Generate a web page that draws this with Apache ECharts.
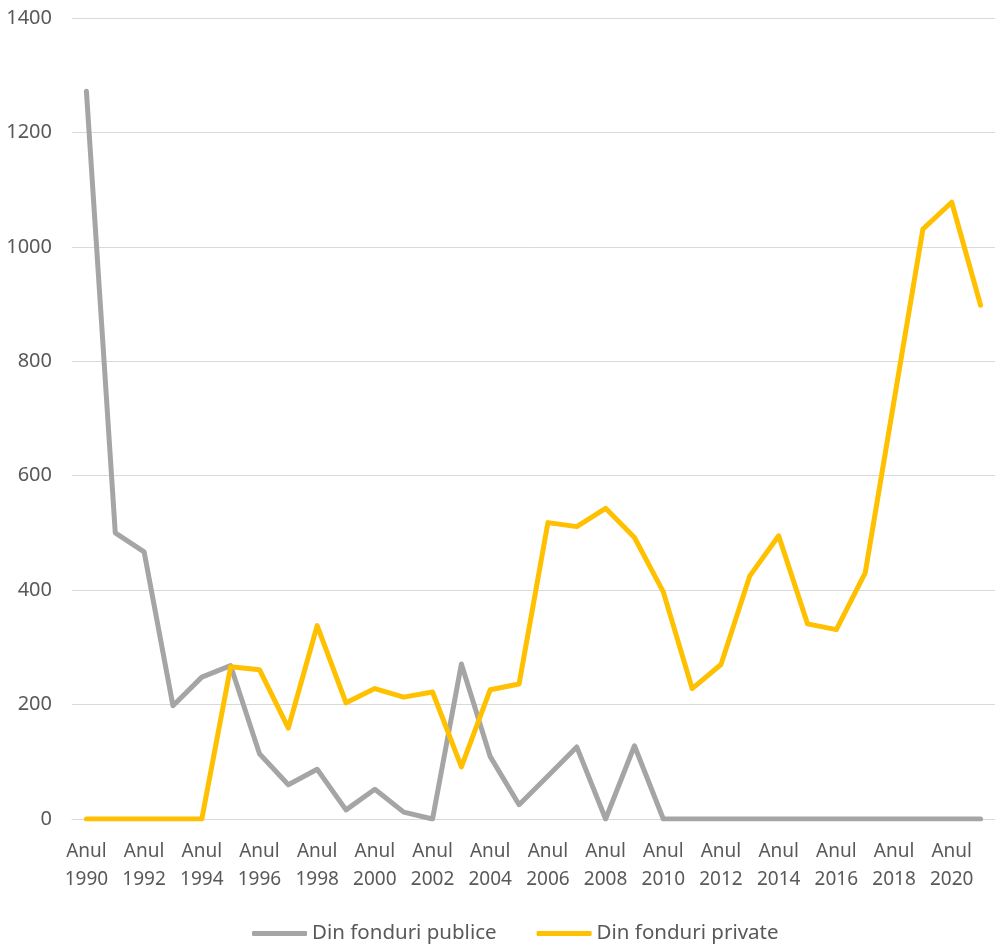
<!DOCTYPE html>
<html>
<head>
<meta charset="utf-8">
<script src="https://cdn.jsdelivr.net/npm/echarts@6/dist/echarts.min.js"></script>
<style>
  html, body { margin: 0; padding: 0; background: #fff; }
  #chart { width: 995px; height: 948px; }
</style>
</head>
<body>
<div id="chart"></div>
<script>
// categories: Anul 1990 .. Anul 2021
var years = [1990, 1991, 1992, 1993, 1994, 1995, 1996, 1997, 1998, 1999, 2000,
  2001, 2002, 2003, 2004, 2005, 2006, 2007, 2008, 2009, 2010,
  2011, 2012, 2013, 2014, 2015, 2016, 2017, 2018, 2019, 2020, 2021];
var categories = years.map(function (y) { return 'Anul ' + y; });

var publice = [1272, 500, 467, 198, 248, 268, 114, 60, 87, 16, 52,
  12, 0, 271, 109, 25, 75, 126, 0, 128, 0,
  0, 0, 0, 0, 0, 0, 0, 0, 0, 0, 0];

var private_ = [0, 0, 0, 0, 0, 266, 261, 159, 338, 203, 228,
  213, 222, 91, 226, 236, 518, 511, 543, 492, 397,
  228, 270, 425, 495, 341, 331, 430, 731, 1031, 1078, 898];

var seriesNames = ['Din fonduri publice', 'Din fonduri private'];
var yTicks = { min: 0, max: 1400, interval: 200 };

var font = '"Noto Sans", "Open Sans", sans-serif';
var chart = echarts.init(document.getElementById('chart'));

var option = {
  backgroundColor: '#ffffff',
  animation: false,
  grid: { left: 72, right: 0, top: 18, bottom: 129, containLabel: false },
  legend: {
    bottom: -1,
    left: 247,
    itemWidth: 55,
    itemHeight: 5,
    itemGap: 40,
    icon: 'roundRect',
    textStyle: { fontFamily: font, fontSize: 20.5, color: '#595959' },
    data: seriesNames
  },
  xAxis: {
    type: 'category',
    data: categories,
    boundaryGap: true,
    axisLine: { lineStyle: { color: '#D9D9D9', width: 1 } },
    axisTick: { show: false },
    axisLabel: {
      interval: 1,
      margin: 19,
      fontFamily: font,
      fontSize: 19,
      lineHeight: 28,
      color: '#595959',
      formatter: function (v) { return v.replace(' ', '\n'); }
    }
  },
  yAxis: {
    type: 'value',
    min: yTicks.min,
    max: yTicks.max,
    interval: yTicks.interval,
    axisLine: { show: false },
    axisTick: { show: false },
    splitLine: { lineStyle: { color: '#D9D9D9', width: 1 } },
    axisLabel: {
      margin: 20,
      fontFamily: font,
      fontSize: 20,
      color: '#595959',
      formatter: function (v) { return String(v); }
    }
  },
  series: [
    {
      name: seriesNames[0],
      type: 'line',
      data: publice,
      symbol: 'none',
      color: '#A5A5A5',
      lineStyle: { width: 5, color: '#A5A5A5', cap: 'round', join: 'round' }
    },
    {
      name: seriesNames[1],
      type: 'line',
      data: private_,
      symbol: 'none',
      color: '#FFC000',
      lineStyle: { width: 5, color: '#FFC000', cap: 'round', join: 'round' }
    }
  ]
};

chart.setOption(option);
</script>
</body>
</html>
